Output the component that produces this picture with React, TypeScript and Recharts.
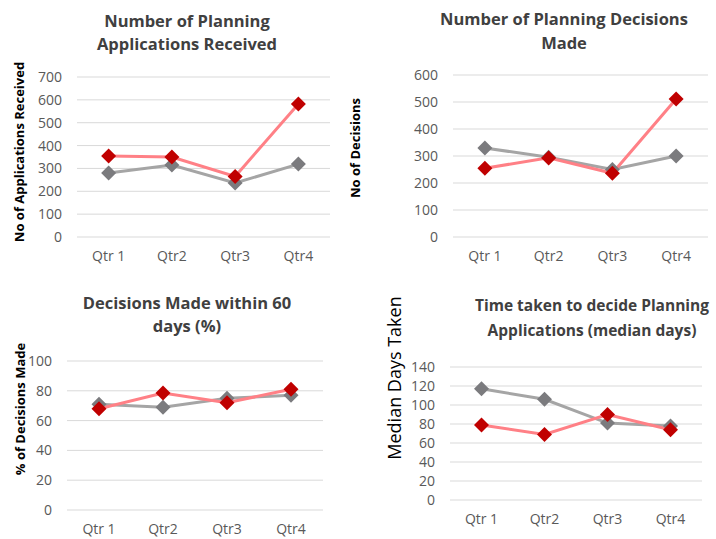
import React from "react";
import { LineChart, Line, XAxis, YAxis, CartesianGrid } from "recharts";

const quarters = ["Qtr 1", "Qtr2", "Qtr3", "Qtr4"];

// Applications received
const receivedGrey = [280, 315, 236, 319];
const receivedRed = [354, 350, 265, 582];
const receivedTicks = [0, 100, 200, 300, 400, 500, 600, 700];

// Decisions made
const decisionsGrey = [330, 295, 250, 300];
const decisionsRed = [255, 293, 236, 511];
const decisionsTicks = [0, 100, 200, 300, 400, 500, 600];

// % within 60 days
const within60Grey = [71, 69, 75, 77];
const within60Red = [68, 78.5, 72, 81];
const within60Ticks = [0, 20, 40, 60, 80, 100];

// median days
const medianGrey = [117, 106, 81, 78];
const medianRed = [79, 69, 90, 74];
const medianTicks = [0, 20, 40, 60, 80, 100, 120, 140];

const FONT = "'Open Sans', sans-serif";
const RED_LINE = "#FF8086";
const RED_DOT = "#C00000";
const GREY_LINE = "#A5A5A5";
const GREY_DOT = "#7B7B7E";

const build = (grey: number[], red: number[]) =>
  quarters.map((q, i) => ({ q, grey: grey[i], red: red[i] }));

const diamond = (fill: string) => (props: any) => {
  const { cx, cy, index } = props;
  if (cx == null || cy == null) return <g key={`d-${index}`} />;
  const r = 7.5;
  return (
    <path
      key={`d-${fill}-${index}`}
      d={`M${cx},${cy - r}L${cx + r},${cy}L${cx},${cy + r}L${cx - r},${cy}Z`}
      fill={fill}
    />
  );
};

type PanelProps = {
  x: number;
  y: number;
  w: number;
  h: number;
  plot: { left: number; right: number; top: number; bottom: number };
  data: any[];
  ticks: number[];
  title: string[];
  titleX: number;
  titleY: number[];
  titleSize?: number;
  yLabel: string;
  yLabelPos: [number, number];
  yLabelStyle?: React.CSSProperties;
};

function Panel(p: PanelProps) {
  const plotW = p.plot.right - p.plot.left;
  const pad = plotW / 8;
  const yAxisW = p.plot.left - p.x;
  const xAxisH = 30;
  const marginBottom = p.y + p.h - p.plot.bottom - xAxisH;
  return (
    <>
      <div style={{ position: "absolute", left: p.x, top: p.y }}>
        <LineChart
          width={p.w}
          height={p.h}
          data={p.data}
          margin={{ top: p.plot.top - p.y, right: p.x + p.w - p.plot.right, bottom: marginBottom, left: 0 }}
        >
          <CartesianGrid vertical={false} stroke="#D9D9D9" strokeWidth={1} />
          <XAxis
            dataKey="q"
            padding={{ left: pad, right: pad }}
            axisLine={false}
            tickLine={false}
            tickSize={6}
            tickMargin={8}
            height={xAxisH}
            interval={0}
            tick={{ fill: "#595959", fontSize: 14, fontFamily: FONT }}
          />
          <YAxis
            width={yAxisW}
            domain={[0, p.ticks[p.ticks.length - 1]]}
            ticks={p.ticks}
            axisLine={false}
            tickLine={false}
            tickSize={6}
            tickMargin={9}
            interval={0}
            tick={{ fill: "#595959", fontSize: 14, fontFamily: FONT }}
          />
          <Line
            dataKey="grey"
            stroke={GREY_LINE}
            strokeWidth={3}
            dot={diamond(GREY_DOT)}
            activeDot={false}
            isAnimationActive={false}
          />
          <Line
            dataKey="red"
            stroke={RED_LINE}
            strokeWidth={3}
            dot={diamond(RED_DOT)}
            activeDot={false}
            isAnimationActive={false}
          />
        </LineChart>
      </div>
      {p.title.map((t, i) => (
        <div
          key={t}
          style={{
            position: "absolute",
            left: p.titleX,
            top: p.titleY[i],
            transform: "translate(-50%, -50%)",
            whiteSpace: "nowrap",
            fontFamily: FONT,
            fontWeight: 700,
            fontSize: p.titleSize ?? 16.5,
            color: "#404040",
          }}
        >
          {t}
        </div>
      ))}
      <div
        style={{
          position: "absolute",
          left: p.yLabelPos[0],
          top: p.yLabelPos[1],
          transform: "translate(-50%, -50%) rotate(-90deg)",
          whiteSpace: "nowrap",
          fontFamily: FONT,
          fontWeight: 700,
          fontSize: 13,
          color: "#000",
          ...p.yLabelStyle,
        }}
      >
        {p.yLabel}
      </div>
    </>
  );
}

export default function App() {
  return (
    <div
      style={{
        position: "absolute",
        left: 0,
        top: 0,
        width: 716,
        height: 539,
        background: "#fff",
        overflow: "hidden",
      }}
    >
      <Panel
        x={0}
        y={0}
        w={358}
        h={270}
        plot={{ left: 77, right: 330, top: 77, bottom: 237 }}
        data={build(receivedGrey, receivedRed)}
        ticks={receivedTicks}
        title={["Number of Planning", "Applications Received"]}
        titleX={187}
        titleY={[20, 43]}
        yLabel="No of Applications Received"
        yLabelPos={[19, 152]}
      />
      <Panel
        x={356}
        y={0}
        w={360}
        h={270}
        plot={{ left: 453, right: 708, top: 75, bottom: 237 }}
        data={build(decisionsGrey, decisionsRed)}
        ticks={decisionsTicks}
        title={["Number of Planning Decisions", "Made"]}
        titleX={564}
        titleY={[18, 42]}
        yLabel="No of Decisions"
        yLabelPos={[355, 148]}
      />
      <Panel
        x={0}
        y={270}
        w={358}
        h={269}
        plot={{ left: 67, right: 323, top: 361, bottom: 510 }}
        data={build(within60Grey, within60Red)}
        ticks={within60Ticks}
        title={["Decisions Made within 60", "days (%)"]}
        titleX={187}
        titleY={[302, 325]}
        yLabel="% of Decisions Made"
        yLabelPos={[20, 409]}
      />
      <Panel
        x={356}
        y={270}
        w={360}
        h={269}
        plot={{ left: 450, right: 702, top: 367, bottom: 500 }}
        data={build(medianGrey, medianRed)}
        ticks={medianTicks}
        title={["Time taken to decide Planning", "Applications (median days)"]}
        titleX={592}
        titleY={[305, 330]}
        titleSize={15.5}
        yLabel="Median Days Taken"
        yLabelPos={[394, 378]}
        yLabelStyle={{ fontWeight: 500, fontSize: 18 }}
      />
    </div>
  );
}
